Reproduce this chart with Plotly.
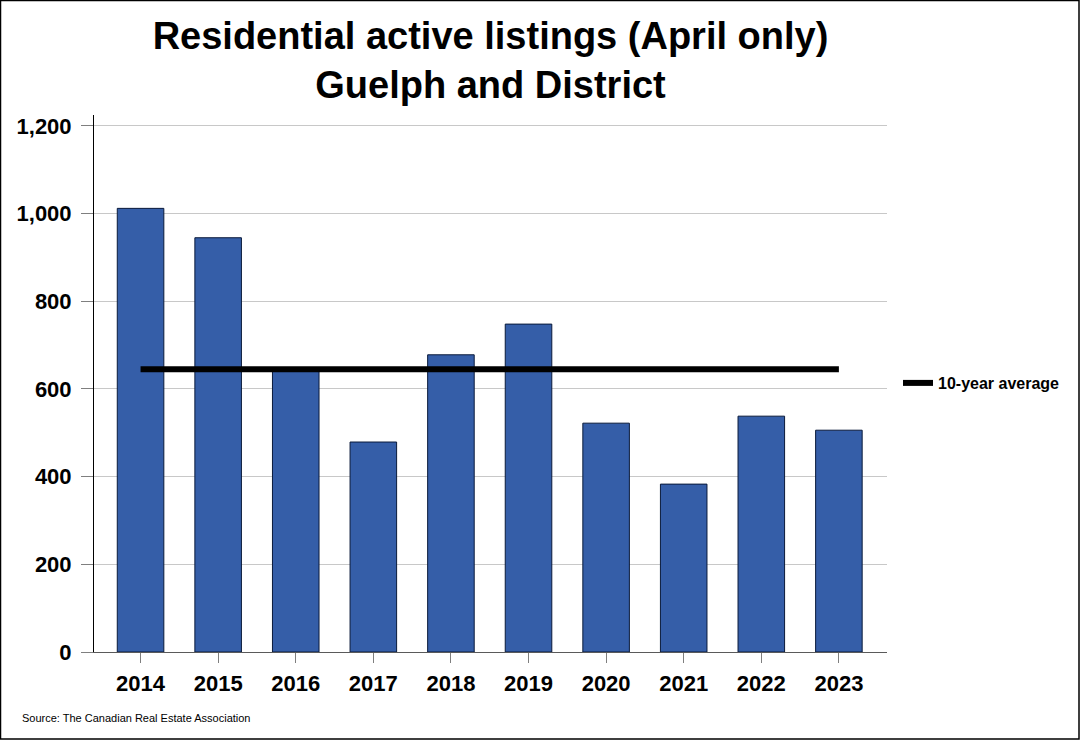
import plotly.graph_objects as go

years = ["2014", "2015", "2016", "2017", "2018", "2019", "2020", "2021", "2022", "2023"]
listings = [1012, 945, 642, 479, 678, 748, 522, 383, 538, 506]
average_label = "10-year average"
average_value = 645
y_ticks = [0, 200, 400, 600, 800, 1000, 1200]
y_tick_text = ["0", "200", "400", "600", "800", "1,000", "1,200"]

W, H = 1080, 751
L, R, T, B = 94, 887, 115, 652

x_pos = list(range(len(years)))

fig = go.Figure()
fig.add_trace(go.Bar(
    x=x_pos, y=listings, width=0.6,
    marker=dict(color="#355EA8", line=dict(color="#0A1A3A", width=1)),
    showlegend=False,
))
fig.add_trace(go.Scatter(
    x=[x_pos[0], x_pos[-1]], y=[average_value, average_value],
    mode="lines", line=dict(color="black", width=6),
    name=average_label, showlegend=True,
))

font_family = "Arial, Liberation Sans, sans-serif"

def px_x(px):
    return (px - L) / (R - L)

def px_y(py):
    return (B - py) / (B - T)

fig.update_layout(
    width=W, height=H,
    margin=dict(l=L, r=W - R, t=T, b=H - B, pad=0),
    paper_bgcolor="white", plot_bgcolor="white",
    font=dict(family=font_family, color="black"),
    title=dict(
        text="Residential active listings (April only)<br>Guelph and District",
        font=dict(size=38, family=font_family, color="black", weight="bold"),
        x=0.5, xref="paper", xanchor="center",
        y=1 - 49 / H, yref="container", yanchor="middle",
    ),
    xaxis=dict(
        range=[-0.6, 9.62], tickvals=x_pos, ticktext=years,
        showgrid=False, zeroline=False,
        showline=True, linecolor="#5a5a5a", linewidth=1,
        ticks="outside", ticklen=10, tickcolor="#7f7f7f", tickwidth=1,
        ticklabelstandoff=2,
        tickfont=dict(size=22, weight="bold", family=font_family, color="black"),
    ),
    yaxis=dict(
        range=[0, 1225], tickvals=y_ticks, ticktext=y_tick_text,
        showgrid=True, gridcolor="#c8c8c8", gridwidth=1, zeroline=False,
        showline=True, linecolor="black", linewidth=1,
        ticks="outside", ticklen=12, tickcolor="#7f7f7f", tickwidth=1,
        ticklabelstandoff=5,
        tickfont=dict(size=22, weight="bold", family=font_family, color="black"),
    ),
    legend=dict(
        x=px_x(898), y=px_y(383), xanchor="left", yanchor="middle",
        font=dict(size=16, weight="bold", family=font_family, color="black"),
        bgcolor="rgba(0,0,0,0)", itemwidth=30,
    ),
    bargap=0.4,
)

fig.add_annotation(
    text="Source: The Canadian Real Estate Association",
    xref="paper", yref="paper", x=px_x(20), y=px_y(718),
    xanchor="left", yanchor="middle", showarrow=False,
    font=dict(size=11, family=font_family, color="black"),
)

fig.add_shape(
    type="rect", xref="paper", yref="paper",
    x0=px_x(0.5), x1=px_x(1079), y0=px_y(739), y1=px_y(0.5),
    line=dict(color="black", width=1.5), fillcolor="rgba(0,0,0,0)", layer="below",
)

fig.write_html(
    "out.html",
    config={"displayModeBar": False},
    post_script="document.body.style.margin='0';document.body.style.overflow='hidden';",
)
